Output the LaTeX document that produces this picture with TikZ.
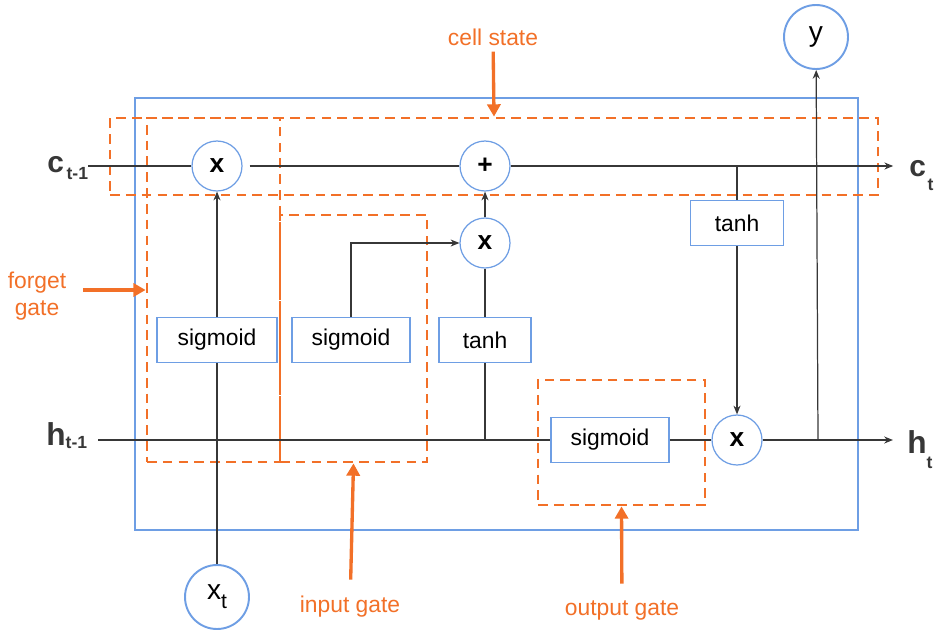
\documentclass[tikz,border=0pt]{standalone}
\usepackage{fontspec}
\setmainfont{Liberation Sans}
\usetikzlibrary{arrows.meta}
\usetikzlibrary{positioning}

\definecolor{cellblue}{RGB}{110,158,228}
\definecolor{gateorange}{RGB}{242,112,40}
\definecolor{wire}{RGB}{55,55,55}

\newcommand{\sub}[2][-0.5ex]{\raisebox{#1}{\fontsize{10}{12}\selectfont #2}}

\tikzset{
  op/.style={circle,draw=cellblue,line width=0.7pt,fill=white,minimum size=1cm,inner sep=0pt,font=\bfseries\fontsize{15}{17}\selectfont},
  io/.style={circle,draw=cellblue,line width=1.1pt,fill=white,minimum size=1.28cm,inner sep=0pt,font=\fontsize{16}{18}\selectfont},
  act/.style={rectangle,draw=cellblue,line width=0.7pt,fill=white,minimum height=0.9cm,inner sep=0pt,font=\fontsize{13}{15}\selectfont},
  gatebox/.style={rectangle,draw=gateorange,line width=1.6pt,dash pattern=on 5.5pt off 3.5pt,inner sep=0pt},
  gatelabel/.style={text=gateorange,font=\fontsize{13}{15}\selectfont,align=center},
  pointer/.style={gateorange,line width=1.9pt,-{Triangle[length=7pt,width=7.5pt]}},
  flow/.style={wire,line width=0.7pt},
  arr/.style={flow,-{Stealth[length=5pt,width=4pt]}},
  state/.style={text=wire,font=\bfseries\fontsize{17}{19}\selectfont,inner sep=0pt}
}

\begin{document}
\begin{tikzpicture}[x=0.02cm,y=-0.02cm]
\useasboundingbox (0,0) rectangle (939,632);

% cell and gates
\node[rectangle,draw=cellblue,line width=1.1pt,minimum width=14.46cm,minimum height=8.64cm] (cell) at (496.5,314) {};
\node[gatebox,minimum width=15.36cm,minimum height=1.54cm] (cellgate) at (494,156.5) {};
\node[gatebox,minimum width=2.66cm,minimum height=6.88cm] (forgetgate) at (213.5,290) {};
\node[gatebox,minimum width=2.94cm,minimum height=4.94cm] (inputgate) at (353.5,338.5) {};
\node[gatebox,minimum width=3.34cm,minimum height=2.5cm] (outputgate) at (621.5,442.5) {};

\node[op] (fx) at (217,166) {x};
\node[op] (plus) at (485,166) {+};
\node[op] (ix) at (485,243) {x};
\node[op] (ox) at (737,440) {x};
\node[io] (yout) at (816,37) {y};
\node[io] (xt) at (217,597) {x\raisebox{-0.6ex}{\fontsize{12}{14}\selectfont t}};

\node[act,minimum width=2.4cm] (sig1) at (217,340) {sigmoid};
\node[act,minimum width=2.36cm] (sig2) at (351,340) {sigmoid};
\node[act,minimum width=1.84cm] (tanh1) at (485,340) {tanh};
\node[act,minimum width=1.86cm] (tanh2) at (737,223) {tanh};
\node[act,minimum width=2.36cm] (sig3) at (610,440) {sigmoid};

\node[state,anchor=base west] (cprev) at (47,172) {c\kern1.5pt\sub{t-1}};
\node[state,anchor=base west] (cnext) at (909,176) {c\kern1pt\sub[-0.9ex]{t}};
\node[state,anchor=base west,font=\bfseries\fontsize{18}{20}\selectfont] (hprev) at (46,445) {h\sub[-0.2ex]{t-1}};
\node[state,anchor=base west,font=\bfseries\fontsize{18}{20}\selectfont] (hnext) at (907,453) {h\sub[-0.9ex]{t}};
\coordinate (split) at (818,440);

% cell state line
\draw[flow,shorten <=4pt] (cprev.east |- fx) -- (fx) -- (plus);
\draw[arr,shorten >=9pt] (plus) -- (plus -| cnext.west);
% forget gate
\draw[flow] (xt) -- (sig1);
\draw[arr] (sig1) -- (fx);
% input gate
\draw[arr] (sig2.north) |- (ix);
\draw[flow] (tanh1 |- ox) -- (tanh1);
\draw[flow] (tanh1) -- (ix);
\draw[arr] (ix) -- (plus);
% output gate
\draw[flow] (tanh2 |- plus) -- (tanh2);
\draw[arr] (tanh2) -- (ox);
\draw[flow,shorten <=6pt] (hprev.east |- ox) -- (sig3);
\draw[flow] (sig3) -- (ox);
\draw[arr,shorten >=8pt] (ox) -- (ox -| hnext.west);
\draw[arr] (split) -- (yout);

% labels
\node[gatelabel] (cslabel) at (493,37) {cell state};
\node[gatelabel] (fglabel) at (37,296) {forget\\gate};
\node[gatelabel] (iglabel) at (350,607) {input gate};
\node[gatelabel] (oglabel) at (622,610) {output gate};
\draw[pointer] (cslabel) -- (cellgate.north);
\draw[pointer,shorten <=6pt] (fglabel.east |- forgetgate.west) -- (forgetgate.west);
\draw[pointer,shorten <=6pt] (iglabel) -- (inputgate.south);
\draw[pointer,shorten <=6pt] (oglabel) -- (outputgate.south);
\end{tikzpicture}
\end{document}
